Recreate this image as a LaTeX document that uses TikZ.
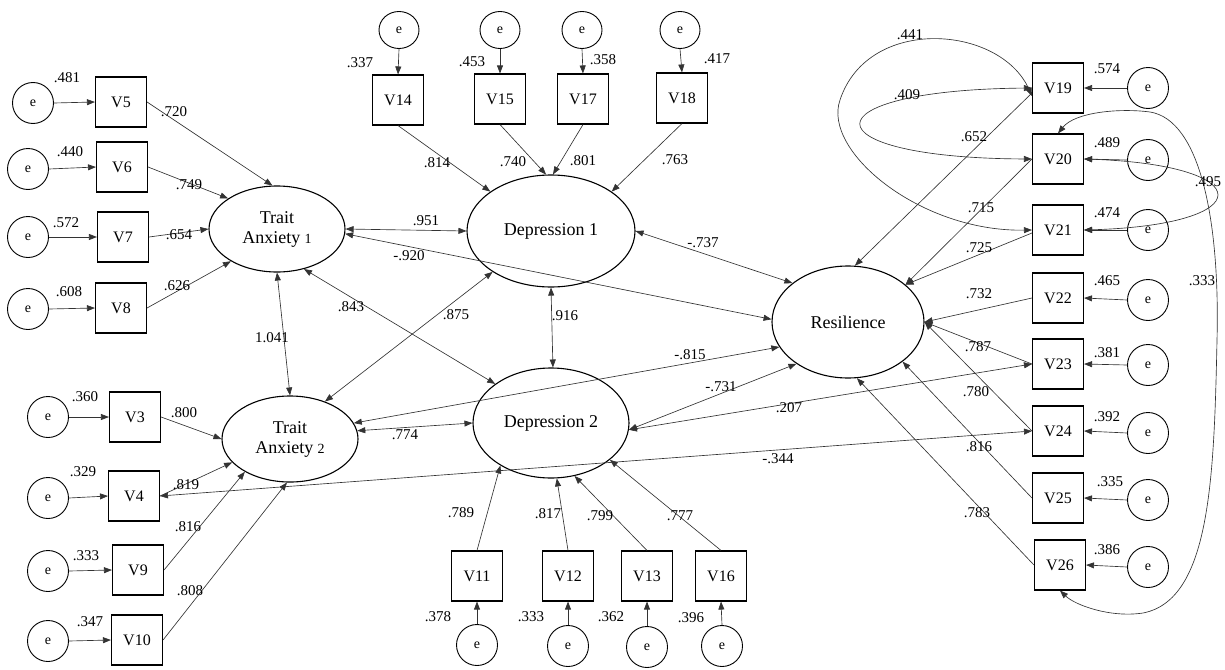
\documentclass[tikz,border=0pt]{standalone}
\usepackage{fontspec}
\setmainfont{Liberation Serif}
\usetikzlibrary{shapes.geometric,arrows.meta,calc}

\begin{document}
\begin{tikzpicture}[x=1pt,y=-1pt,
  obs/.style={draw, line width=1.1pt, minimum width=51pt, minimum height=50pt, inner sep=0pt, font=\fontsize{16}{18}\selectfont},
  lat/.style={draw, ellipse, line width=1.1pt, inner sep=0pt, align=center, font=\fontsize{18}{20}\selectfont},
  err/.style={draw, ellipse, line width=0.9pt, minimum width=41pt, minimum height=41pt, inner sep=0pt, font=\fontsize{14}{16}\selectfont},
  errtop/.style={err, minimum width=40pt, minimum height=37pt},
  lnk/.style={-{Triangle[length=8pt,width=6pt]}, line width=0.65pt, draw=black!80},
  cov/.style={{Triangle[length=8pt,width=6pt]}-{Triangle[length=8pt,width=6pt]}, line width=0.65pt, draw=black!80},
  num/.style={inner sep=0pt, font=\fontsize{15}{17}\selectfont}]

\useasboundingbox (0,0) rectangle (1225,669);

% ---------- latent variables ----------
\node[lat, minimum width=136pt, minimum height=86pt] (TA1) at (277,229) {Trait\\Anxiety {\fontsize{14}{16}\selectfont 1}};
\node[lat, minimum width=136pt, minimum height=86pt] (TA2) at (290,439) {Trait\\Anxiety {\fontsize{14}{16}\selectfont 2}};
\node[lat, minimum width=168pt, minimum height=112pt] (D1) at (551,231) {Depression 1};
\node[lat, minimum width=156pt, minimum height=110pt] (D2) at (551,423) {Depression 2};
\node[lat, minimum width=152pt, minimum height=112pt] (Res) at (848,322) {Resilience};

% ---------- Trait Anxiety 1 indicators ----------
\node[obs] (V5) at (121,102) {V5};
\node[obs] (V6) at (122,167) {V6};
\node[obs] (V7) at (123,237) {V7};
\node[obs] (V8) at (121,308) {V8};
\node[err] (e5) at (33,103) {e};
\node[err] (e6) at (28,169) {e};
\node[err] (e7) at (28,237) {e};
\node[err] (e8) at (28,309) {e};

% ---------- Trait Anxiety 2 indicators ----------
\node[obs] (V3) at (135,417) {V3};
\node[obs] (V4) at (134,496) {V4};
\node[obs] (V9) at (138,570) {V9};
\node[obs] (V10) at (137,640) {V10};
\node[err] (e3) at (48,417) {e};
\node[err] (e4) at (48,498) {e};
\node[err] (e9) at (48,571) {e};
\node[err] (e10) at (48,641) {e};

% ---------- Depression 1 indicators ----------
\node[obs] (V14) at (398,100) {V14};
\node[obs] (V15) at (500,99) {V15};
\node[obs] (V17) at (583,99) {V17};
\node[obs] (V18) at (682,98) {V18};
\node[errtop] (e14) at (399,30) {e};
\node[errtop] (e15) at (500,30) {e};
\node[errtop] (e17) at (582,30) {e};
\node[errtop] (e18) at (680,30) {e};

% ---------- Depression 2 indicators ----------
\node[obs] (V11) at (477,576) {V11};
\node[obs] (V12) at (568,576) {V12};
\node[obs] (V13) at (647,576) {V13};
\node[obs] (V16) at (721,576) {V16};
\node[err] (e11) at (477,645) {e};
\node[err] (e12) at (568,646) {e};
\node[err] (e13) at (647,647) {e};
\node[err] (e16) at (722,646) {e};

% ---------- Resilience indicators ----------
\node[obs] (V19) at (1058,88) {V19};
\node[obs] (V20) at (1058,159) {V20};
\node[obs] (V21) at (1058,230) {V21};
\node[obs] (V22) at (1058,298) {V22};
\node[obs] (V23) at (1058,364) {V23};
\node[obs] (V24) at (1058,431) {V24};
\node[obs] (V25) at (1058,498) {V25};
\node[obs] (V26) at (1060,565) {V26};
\node[err] (e19) at (1148,88) {e};
\node[err] (e20) at (1148,160) {e};
\node[err] (e21) at (1148,230) {e};
\node[err] (e22) at (1148,300) {e};
\node[err] (e23) at (1148,365) {e};
\node[err] (e24) at (1148,433) {e};
\node[err] (e25) at (1148,500) {e};
\node[err] (e26) at (1148,567) {e};

% ---------- error terms ----------
\foreach \i in {5,6,7,8,3,4,9,10} \draw[lnk] (e\i.east) -- (V\i.west);
\foreach \i in {14,15,17,18} \draw[lnk] (e\i.south) -- (V\i.north);
\foreach \i in {11,12,13,16} \draw[lnk] (e\i.north) -- (V\i.south);
\foreach \i in {19,20,...,26} \draw[lnk] (e\i.west) -- (V\i.east);

% ---------- loadings ----------
\draw[lnk] (V5.east) -- (TA1.96);
\draw[lnk] (V6.east) -- (TA1.148);
\draw[lnk] (V7.east) -- (TA1.180);
\draw[lnk] (V8.east) -- (TA1.215);

\draw[lnk] (V3.east) -- (TA2.180);
\draw[lnk] (V4.east) -- (TA2.202);
\draw[lnk] (V9.east) -- (TA2.216);
\draw[lnk] (V10.east) -- (TA2.266);

\draw[lnk] (V14.south) -- (D1.147);
\draw[lnk] (V15.south) -- (D1.95);
\draw[lnk] (V17.south) -- (D1.88);
\draw[lnk] (V18.south) -- (D1.33);

\draw[lnk] (V11.north) -- (D2.220);
\draw[lnk] (V12.north) -- (D2.276);
\draw[lnk] (V13.north) -- (D2.294);
\draw[lnk] (V16.north) -- (D2.328);

\draw[lnk] ($(V19.west)+(0,5)$) -- (Res.83);
\draw[lnk] (V20.west) -- (Res.33);
\draw[lnk] ($(V21.west)+(0,3)$) -- (Res.33);
\draw[lnk] (V22.west) -- (Res.0);
\draw[lnk] (V23.west) -- (Res.0);
\draw[lnk] (V24.west) -- (Res.0);
\draw[lnk] (V25.west) -- (Res.324);
\draw[lnk] (V26.west) -- (Res.279);

% ---------- correlations between factors ----------
\draw[cov] (TA1.0) -- (D1.180);
\draw[cov] (TA1.-4) -- (Res.178);
\draw[cov] (D1.0) -- (Res.145);
\draw[cov] (TA1.304) -- (D2.145);
\draw[cov] (D1.215) -- (TA2.47);
\draw[cov] (D1.270) -- (D2.88);
\draw[cov] (TA1.270) -- (TA2.90);
\draw[cov] (TA2.14) -- (Res.200);
\draw[cov] (TA2.7) -- (D2.180);
\draw[cov] (D2.-5) -- (Res.219);
\draw[cov] (D2.-5) -- (V23.west);
\draw[cov] (V4.east) -- (V24.west);

% ---------- correlated indicator pairs ----------
\draw[cov] ($(V19.west)+(0,8)$) .. controls (1000,25) and (868,15) .. (840,100)
  .. controls (822,151) and (920,232) .. (V21.west);
\draw[cov] (V19.west) .. controls (805,90) and (805,158) .. (V20.west);
\draw[cov] (V20.east) .. controls (1260,165) and (1260,225) .. (V21.east);
\draw[cov] (V20.north) .. controls (1075,112) and (1120,108) .. (1150,112)
  .. controls (1200,120) and (1220,220) .. (1217,340)
  .. controls (1214,480) and (1210,600) .. (1143,613)
  .. controls (1110,618) and (1075,605) .. (V26.south);

% ---------- error variances ----------
\node[num] (r5) at (67,78) {.481};
\node[num] (r6) at (70,152) {.440};
\node[num] (r7) at (66,223) {.572};
\node[num] (r8) at (69,292) {.608};
\node[num] (r3) at (85,397) {.360};
\node[num] (r4) at (83,472) {.329};
\node[num] (r9) at (86,556) {.333};
\node[num] (r10) at (90,622) {.347};
\node[num] (r14) at (360,63) {.337};
\node[num] (r15) at (472,62) {.453};
\node[num] (r17) at (603,60) {.358};
\node[num] (r18) at (717,59) {.417};
\node[num] (r11) at (438,617) {.378};
\node[num] (r12) at (531,617) {.333};
\node[num] (r13) at (611,617) {.362};
\node[num] (r16) at (691,618) {.396};
\node[num] (r19) at (1107,69) {.574};
\node[num] (r20) at (1107,143) {.489};
\node[num] (r21) at (1107,213) {.474};
\node[num] (r22) at (1107,281) {.465};
\node[num] (r23) at (1107,353) {.381};
\node[num] (r24) at (1107,417) {.392};
\node[num] (r25) at (1110,482) {.335};
\node[num] (r26) at (1107,550) {.386};

% ---------- loading values ----------
\node[num] (w5) at (174,112) {.720};
\node[num] (w6) at (189,185) {.749};
\node[num] (w7) at (179,235) {.654};
\node[num] (w8) at (177,286) {.626};
\node[num] (w3) at (184,413) {.800};
\node[num] (w4) at (186,485) {.819};
\node[num] (w9) at (188,527) {.816};
\node[num] (w10) at (190,591) {.808};
\node[num] (w14) at (437,163) {.814};
\node[num] (w15) at (513,162) {.740};
\node[num] (w17) at (583,161) {.801};
\node[num] (w18) at (675,160) {.763};
\node[num] (w11) at (461,513) {.789};
\node[num] (w12) at (548,514) {.817};
\node[num] (w13) at (600,516) {.799};
\node[num] (w16) at (680,516) {.777};
\node[num] (w19) at (974,137) {.652};
\node[num] (w20) at (981,208) {.715};
\node[num] (w21) at (979,248) {.725};
\node[num] (w22) at (979,294) {.732};
\node[num] (w23) at (978,347) {.787};
\node[num] (w24) at (976,392) {.780};
\node[num] (w25) at (979,447) {.816};
\node[num] (w26) at (977,513) {.783};

% ---------- correlation values ----------
\node[num] (c1) at (426,221) {.951};
\node[num] (c2) at (409,256) {-.920};
\node[num] (c3) at (703,243) {-.737};
\node[num] (c4) at (351,307) {.843};
\node[num] (c5) at (456,315) {.875};
\node[num] (c6) at (565,316) {.916};
\node[num] (c7) at (272,338) {1.041};
\node[num] (c8) at (690,355) {-.815};
\node[num] (c9) at (405,435) {.774};
\node[num] (c10) at (721,387) {-.731};
\node[num] (c11) at (789,408) {.207};
\node[num] (c12) at (778,459) {-.344};
\node[num] (c13) at (910,35) {.441};
\node[num] (c14) at (907,95) {.409};
\node[num] (c15) at (1208,182) {.495};
\node[num] (c16) at (1202,281) {.333};
\end{tikzpicture}
\end{document}
